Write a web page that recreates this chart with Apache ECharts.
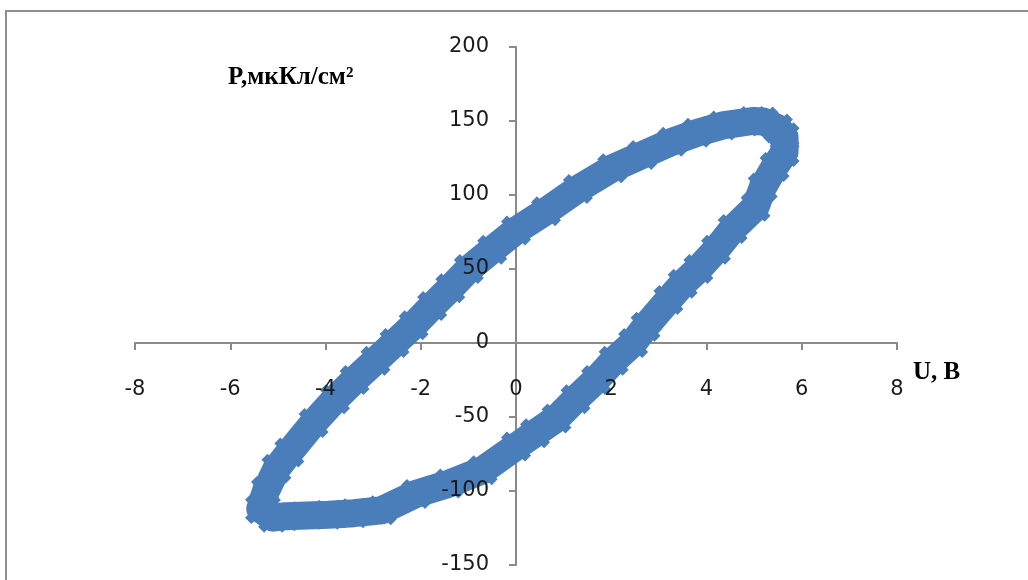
<!DOCTYPE html>
<html>
<head>
<meta charset="utf-8">
<title>P(U)</title>
<script src="https://cdn.jsdelivr.net/npm/echarts@6/dist/echarts.min.js"></script>
<style>
  html, body { margin: 0; padding: 0; background: #fff; }
  #chart { width: 1028px; height: 580px; }
</style>
</head>
<body>
<div id="chart"></div>
<script>
// петля гистерезиса: верхняя ветвь (слева направо), затем нижняя (справа налево)
const uValues = [
  -5.37, -5.25, -5.03, -4.76, -4.25, -3.8, -3.39, -2.95, -2.55, -2.15,
  -1.76, -1.38, -0.99, -0.5, 0, 0.63, 1.3, 2.02, 2.65, 3.28,
  3.8, 4.34, 4.97, 5.2, 5.5, 5.64, 5.64, 5.43, 5.18, 5.03,
  4.55, 4.2, 3.83, 3.5, 3.2, 2.72, 2.46, 2.05, 1.68, 1.25,
  0.85, 0.4, 0, -0.7, -1.4, -2.1, -2.82, -3.4, -3.94, -4.84,
  -5.1, -5.37
];
const pValues = [
  -112, -100, -85, -74, -54, -38, -25, -12, 0, 12,
  25, 37, 50, 63, 76, 89, 104, 118, 127, 136,
  142, 147, 150, 149.6, 145, 139, 129, 119, 105, 92,
  77, 63, 50, 40, 29, 11, 0, -12, -25, -38,
  -51, -61, -70, -86, -95, -102, -113, -115, -116, -117,
  -118, -112
];

const xMin = -8, xMax = 8, xStep = 2;
const yMin = -150, yMax = 200, yStep = 50;

const yTitle = 'P,мкКл/см²';
const xTitle = 'U, B';

const loopData = uValues.map((u, i) => [u, pValues[i]]);

// размеры сетки в пикселях
const gridLeft = 135, gridRight = 131, gridTop = 47, gridBottom = 15;
const gridW = 1028 - gridLeft - gridRight;
const gridH = 580 - gridTop - gridBottom;
// где проходят нулевые линии (для слоя с подписями поверх графика)
const zeroX = gridW * (0 - xMin) / (xMax - xMin);
const zeroY = gridH * (yMax - 0) / (yMax - yMin);

const axisColor = '#8a8a8a';
const labelFont = { fontFamily: 'DejaVu Sans', fontSize: 21, color: '#1a1a1a' };
const titleFont = 'bold 25px "Liberation Serif"';

// Excel-подобный маркер "X"
const xMarker = 'path://M0,2 L2,0 L5,3 L8,0 L10,2 L7,5 L10,8 L8,10 L5,7 L2,10 L0,8 L3,5 Z';

const chart = echarts.init(document.getElementById('chart'), null, { renderer: 'canvas' });

chart.setOption({
  backgroundColor: '#fff',
  animation: false,
  grid: {
    left: gridLeft,
    right: gridRight,
    top: gridTop,
    bottom: gridBottom,
    containLabel: false,
    outerBoundsMode: 'none'
  },
  xAxis: [
    {
      // линия оси и засечки (под графиком)
      type: 'value',
      min: xMin, max: xMax, interval: xStep,
      position: 'bottom',
      axisLine: { onZero: true, lineStyle: { color: axisColor, width: 2 } },
      axisTick: { show: true, length: 7, lineStyle: { color: axisColor, width: 2 } },
      axisLabel: { show: false },
      splitLine: { show: false },
      z: 0
    },
    {
      // подписи (поверх графика)
      type: 'value',
      min: xMin, max: xMax, interval: xStep,
      position: 'bottom',
      offset: -(gridH - zeroY),
      axisLine: { show: false, onZero: false },
      axisTick: { show: false },
      axisLabel: Object.assign({ margin: 36 }, labelFont),
      splitLine: { show: false },
      z: 10
    }
  ],
  yAxis: [
    {
      type: 'value',
      min: yMin, max: yMax, interval: yStep,
      position: 'left',
      axisLine: { show: true, onZero: true, lineStyle: { color: axisColor, width: 2 } },
      axisTick: { show: true, length: 7, lineStyle: { color: axisColor, width: 2 } },
      axisLabel: { show: false },
      splitLine: { show: false },
      z: 0
    },
    {
      type: 'value',
      min: yMin, max: yMax, interval: yStep,
      position: 'left',
      offset: -zeroX,
      axisLine: { show: false, onZero: false },
      axisTick: { show: false },
      axisLabel: Object.assign({ margin: 27 }, labelFont),
      splitLine: { show: false },
      z: 10
    }
  ],
  series: [
    {
      type: 'line',
      xAxisIndex: 0,
      yAxisIndex: 0,
      data: loopData,
      smooth: false,
      symbol: xMarker,
      symbolSize: 30,
      itemStyle: { color: '#4a7ebb' },
      lineStyle: { color: '#4a7ebb', width: 28, cap: 'round', join: 'round' },
      z: 2
    }
  ],
  graphic: [
    {
      type: 'rect',
      shape: { x: 6, y: 11, width: 1040, height: 600 },
      style: { fill: 'none', stroke: '#8e8e8e', lineWidth: 2 },
      silent: true,
      z: 100
    },
    {
      type: 'text',
      left: 228,
      top: 65,
      style: { text: yTitle, font: titleFont, fill: '#000' },
      z: 100
    },
    {
      type: 'text',
      left: 913,
      top: 360,
      style: { text: xTitle, font: titleFont, fill: '#000' },
      z: 100
    }
  ]
});
</script>
</body>
</html>
